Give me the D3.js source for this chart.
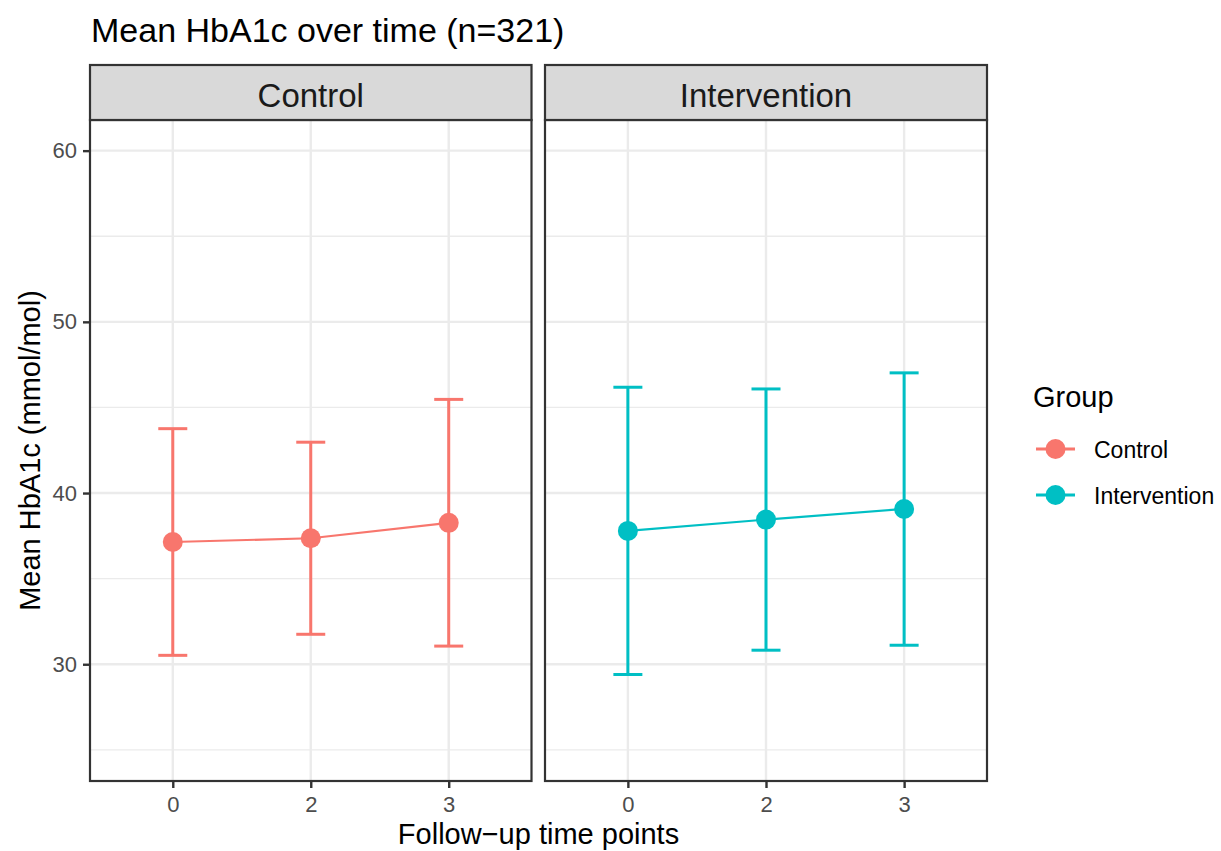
<!DOCTYPE html>
<html>
<head>
<meta charset="utf-8">
<script src="https://cdn.jsdelivr.net/npm/d3@7"></script>
<style>
  html, body { margin: 0; padding: 0; background: #fff; }
  svg text { font-family: "Liberation Sans", Arial, sans-serif; }
</style>
</head>
<body>
<svg id="chart" width="1221" height="851"></svg>
<script>
// ---- data ----
const timePoints = ["0", "2", "3"];
const groups = ["Control", "Intervention"];
const controlMean  = [37.14, 37.36, 38.26];
const controlLower = [30.52, 31.75, 31.06];
const controlUpper = [43.76, 42.97, 45.47];
const interventionMean  = [37.79, 38.45, 39.07];
const interventionLower = [29.40, 30.82, 31.11];
const interventionUpper = [46.18, 46.08, 47.02];
const yTicks = [30, 40, 50, 60];
const yMinorTicks = [25, 35, 45, 55];
const groupColors = ["#F8766D", "#00BFC4"];
const titleText = "Mean HbA1c over time (n=321)";
const xTitle = "Follow\u2212up time points";
const yTitle = "Mean HbA1c (mmol/mol)";
const legendTitle = "Group";

const seriesData = [
  { group: groups[0], mean: controlMean, lower: controlLower, upper: controlUpper, color: groupColors[0] },
  { group: groups[1], mean: interventionMean, lower: interventionLower, upper: interventionUpper, color: groupColors[1] }
];

// ---- layout ----
const svg = d3.select("#chart");
const panelTop = 120, panelBottom = 781;
const stripTop = 65;
const panels = [ { x0: 90, x1: 531.5 }, { x0: 545, x1: 987 } ];
const font = '"Liberation Sans", Arial, sans-serif';
const border = "#333333";

const y = d3.scaleLinear().domain([23.18, 61.79]).range([panelBottom, panelTop]);

// title
svg.append("text").attr("x", 91).attr("y", 42)
  .attr("font-size", 34).attr("fill", "#000").text(titleText);

seriesData.forEach((s, i) => {
  const p = panels[i];
  const x = d3.scalePoint().domain(timePoints).range([p.x0, p.x1]).padding(0.6);
  const g = svg.append("g");

  // panel background
  g.append("rect").attr("x", p.x0).attr("y", panelTop)
    .attr("width", p.x1 - p.x0).attr("height", panelBottom - panelTop).attr("fill", "#fff");

  // minor grid
  g.selectAll(".ymin").data(yMinorTicks).enter().append("line")
    .attr("x1", p.x0).attr("x2", p.x1)
    .attr("y1", d => y(d)).attr("y2", d => y(d))
    .attr("stroke", "#EBEBEB").attr("stroke-width", 1.3);
  // major grid
  g.selectAll(".ymaj").data(yTicks).enter().append("line")
    .attr("x1", p.x0).attr("x2", p.x1)
    .attr("y1", d => y(d)).attr("y2", d => y(d))
    .attr("stroke", "#EBEBEB").attr("stroke-width", 2.4);
  g.selectAll(".xmaj").data(timePoints).enter().append("line")
    .attr("x1", d => x(d)).attr("x2", d => x(d))
    .attr("y1", panelTop).attr("y2", panelBottom)
    .attr("stroke", "#EBEBEB").attr("stroke-width", 2.4);

  // error bars
  const capHalf = 14.5;
  timePoints.forEach((t, k) => {
    const cx = x(t);
    g.append("line").attr("x1", cx).attr("x2", cx)
      .attr("y1", y(s.lower[k])).attr("y2", y(s.upper[k]))
      .attr("stroke", s.color).attr("stroke-width", 3);
    [s.lower[k], s.upper[k]].forEach(v => {
      g.append("line").attr("x1", cx - capHalf).attr("x2", cx + capHalf)
        .attr("y1", y(v)).attr("y2", y(v))
        .attr("stroke", s.color).attr("stroke-width", 3);
    });
  });

  // connecting line
  const line = d3.line().x((d, k) => x(timePoints[k])).y(d => y(d));
  g.append("path").datum(s.mean).attr("d", line)
    .attr("fill", "none").attr("stroke", s.color).attr("stroke-width", 2.2);

  // points
  g.selectAll(".pt").data(s.mean).enter().append("circle")
    .attr("cx", (d, k) => x(timePoints[k])).attr("cy", d => y(d))
    .attr("r", 10).attr("fill", s.color);

  // panel border
  g.append("rect").attr("x", p.x0).attr("y", panelTop)
    .attr("width", p.x1 - p.x0).attr("height", panelBottom - panelTop)
    .attr("fill", "none").attr("stroke", border).attr("stroke-width", 2.2);

  // strip
  g.append("rect").attr("x", p.x0).attr("y", stripTop)
    .attr("width", p.x1 - p.x0).attr("height", panelTop - stripTop)
    .attr("fill", "#D9D9D9").attr("stroke", border).attr("stroke-width", 2.2);
  g.append("text").attr("x", (p.x0 + p.x1) / 2).attr("y", 106.5)
    .attr("text-anchor", "middle").attr("font-size", 33).attr("fill", "#1A1A1A")
    .text(s.group);

  // x axis
  const xAxis = d3.axisBottom(x).tickSize(7).tickPadding(8);
  const ax = g.append("g").attr("transform", `translate(0,${panelBottom})`).call(xAxis);
  ax.select(".domain").remove();
  ax.selectAll(".tick line").attr("stroke", border).attr("stroke-width", 2.4);
  ax.selectAll(".tick text").attr("font-size", 22).attr("fill", "#4D4D4D")
    .attr("font-family", font);

  if (i === 0) {
    const yAxis = d3.axisLeft(y).tickValues(yTicks).tickSize(7).tickPadding(6);
    const ay = g.append("g").attr("transform", `translate(${p.x0},0)`).call(yAxis);
    ay.select(".domain").remove();
    ay.selectAll(".tick line").attr("stroke", border).attr("stroke-width", 2.4);
    ay.selectAll(".tick text").attr("font-size", 22).attr("fill", "#4D4D4D")
      .attr("font-family", font);
  }
});

// axis titles
svg.append("text").attr("x", (panels[0].x0 + panels[1].x1) / 2).attr("y", 844)
  .attr("text-anchor", "middle").attr("font-size", 29).attr("fill", "#000").text(xTitle);
svg.append("text")
  .attr("transform", `translate(40,${(panelTop + panelBottom) / 2}) rotate(-90)`)
  .attr("text-anchor", "middle").attr("font-size", 29).attr("fill", "#000").text(yTitle);

// legend
const lg = svg.append("g");
lg.append("text").attr("x", 1033).attr("y", 407).attr("font-size", 29).attr("fill", "#000").text(legendTitle);
seriesData.forEach((s, i) => {
  const cy = 449 + i * 46;
  lg.append("line").attr("x1", 1036).attr("x2", 1075).attr("y1", cy).attr("y2", cy)
    .attr("stroke", s.color).attr("stroke-width", 3);
  lg.append("circle").attr("cx", 1055.5).attr("cy", cy).attr("r", 10).attr("fill", s.color);
  lg.append("text").attr("x", 1094).attr("y", cy + 8.5).attr("font-size", 23).attr("fill", "#000").text(s.group);
});
</script>
</body>
</html>
